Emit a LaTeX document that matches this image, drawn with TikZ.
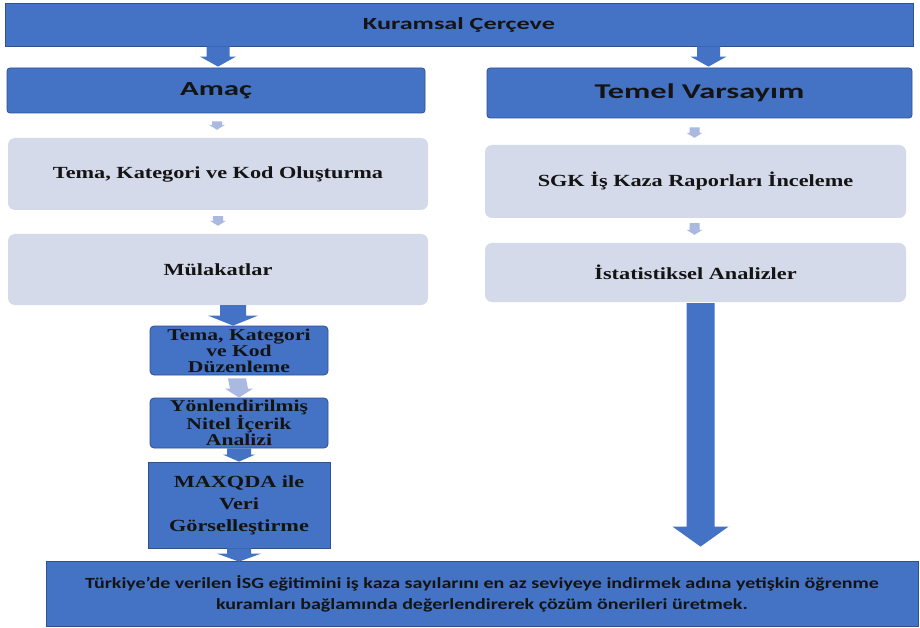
\documentclass[tikz,border=0pt]{standalone}
\usepackage{fontspec}
\usetikzlibrary{calc}

% fonts: wide sans for the blue headers, bold serif for the step boxes
\newfontfamily\hdrfont[FakeStretch=1.54]{Carlito}
\newfontfamily\goalfont[FakeStretch=1.29]{Carlito}
\newfontfamily\stepfont[FakeStretch=1.31]{Liberation Serif}

\definecolor{blueFill}{HTML}{4472C4}
\definecolor{blueEdge}{HTML}{2F528F}
\definecolor{paleFill}{HTML}{D5DAEB}
\definecolor{paleArrow}{HTML}{A9B9DF}
\definecolor{ink}{HTML}{141414}

% vertical block arrow: style, start, tip, shaft half-width, head half-width, head length
\newcommand{\blockarrow}[6]{%
  \fill[#1] ($(#2)+(-#4,0)$) -- ($(#3)+(-#4,-#6)$) -- ($(#3)+(-#5,-#6)$) -- (#3)
    -- ($(#3)+(#5,-#6)$) -- ($(#3)+(#4,-#6)$) -- ($(#2)+(#4,0)$) -- cycle;}

\begin{document}
\begin{tikzpicture}[x=1pt,y=-1pt,
  bluebox/.style={draw=blueEdge, line width=0.8pt, fill=blueFill, text=ink,
    inner sep=0pt, align=center},
  palebox/.style={fill=paleFill, rounded corners=7pt, text=ink, inner sep=0pt,
    align=center, font=\stepfont\bfseries\fontsize{17}{20}\selectfont},
  smallbox/.style={bluebox, rounded corners=4pt,
    font=\stepfont\bfseries\fontsize{16.5}{16}\selectfont},
  bluearrow/.style={fill=blueFill},
  palearrow/.style={fill=paleArrow}]

\useasboundingbox (0,0) rectangle (920,628);
\fill[white] (0,0) rectangle (920,628);

% header row
\node[bluebox, minimum width=908pt, minimum height=43pt,
  font=\hdrfont\bfseries\fontsize{17}{20}\selectfont] (top) at (459,24.5) {Kuramsal Çerçeve};
\node[bluebox, rounded corners=3pt, minimum width=418pt, minimum height=45pt,
  font=\hdrfont\bfseries\fontsize{20}{24}\selectfont] (amac) at (216,90.5) {Amaç};
\node[bluebox, rounded corners=3pt, minimum width=425pt, minimum height=50pt,
  font=\hdrfont\bfseries\fontsize{21}{24}\selectfont] (temel) at (699.5,93) {Temel Varsayım};

% left column
\node[palebox, minimum width=420pt, minimum height=72pt] (tko) at (218,174)
  {Tema, Kategori ve Kod Oluşturma};
\node[palebox, minimum width=420pt, minimum height=71pt] (mul) at (218,269.5)
  {Mülakatlar};
\node[smallbox, minimum width=178pt, minimum height=49pt] (duz) at (239,350.5)
  {Tema, Kategori\\ve Kod\\Düzenleme};
\node[smallbox, minimum width=178pt, minimum height=50pt] (yon) at (239,423)
  {Yönlendirilmiş\\Nitel İçerik\\Analizi};
\node[bluebox, minimum width=182pt, minimum height=86pt,
  font=\stepfont\bfseries\fontsize{17}{22}\selectfont] (maxq) at (239,505)
  {MAXQDA ile\\Veri\\Görselleştirme};

% right column
\node[palebox, minimum width=421pt, minimum height=73pt] (sgk) at (695.5,181.5)
  {SGK İş Kaza Raporları İnceleme};
\node[palebox, minimum width=421pt, minimum height=59pt] (ist) at (695.5,272.5)
  {İstatistiksel Analizler};

% goal statement
\node[bluebox, minimum width=872pt, minimum height=65pt,
  font=\goalfont\bfseries\fontsize{15.5}{21}\selectfont] (goal) at (482,593.5)
  {Türkiye’de verilen İSG eğitimini iş kaza sayılarını en az seviyeye indirmek adına yetişkin öğrenme\\
   kuramları bağlamında değerlendirerek çözüm önerileri üretmek.};

% arrow end points
\coordinate (t1a) at ($(amac.north |- top.south)+(2,0)$);
\coordinate (t1b) at ($(amac.north)+(2,-1)$);
\coordinate (t2a) at ($(temel.north |- top.south)+(9,0)$);
\coordinate (t2b) at ($(temel.north)+(9,-1)$);
\coordinate (l1a) at ($(amac.south)+(1,8)$);
\coordinate (l1b) at ($(tko.north)+(-1,-8)$);
\coordinate (l2a) at ($(tko.south)+(0,6)$);
\coordinate (l2b) at ($(mul.north)+(0,-8)$);
\coordinate (l3a) at ($(duz.north |- mul.south)+(-6,0)$);
\coordinate (l3b) at ($(duz.north)+(-6,0)$);
\coordinate (l4a) at ($(duz.south)+(-2,3)$);
\coordinate (l4b) at (yon.north);
\coordinate (l5a) at (yon.south);
\coordinate (l5b) at (maxq.north);
\coordinate (l6a) at (maxq.south);
\coordinate (l6b) at ($(maxq.south |- goal.north)+(0,1)$);
\coordinate (r1a) at ($(temel.south)+(-5,9)$);
\coordinate (r1b) at ($(sgk.north)+(-1,-7)$);
\coordinate (r2a) at ($(sgk.south)+(-1,5)$);
\coordinate (r2b) at ($(ist.north)+(-1,-8)$);
\coordinate (r3a) at ($(ist.south)+(5,1)$);
\coordinate (r3b) at ($(ist.south |- goal.north)+(5,-14)$);

% connectors
\blockarrow{bluearrow}{t1a}{t1b}{11.5}{18}{10}
\blockarrow{bluearrow}{t2a}{t2b}{11.5}{18}{10}
\blockarrow{palearrow}{l1a}{l1b}{5}{8}{5}
\blockarrow{palearrow}{l2a}{l2b}{5}{8}{5}
\blockarrow{bluearrow}{l3a}{l3b}{13}{25}{10}
\blockarrow{palearrow}{l4a}{l4b}{9}{14}{9}
\blockarrow{bluearrow}{l5a}{l5b}{12}{16}{7}
\blockarrow{bluearrow}{l6a}{l6b}{12}{22}{8}
\blockarrow{palearrow}{r1a}{r1b}{5}{8}{5}
\blockarrow{palearrow}{r2a}{r2b}{5}{8}{5}
\blockarrow{bluearrow}{r3a}{r3b}{14}{28}{20}
\end{tikzpicture}
\end{document}
